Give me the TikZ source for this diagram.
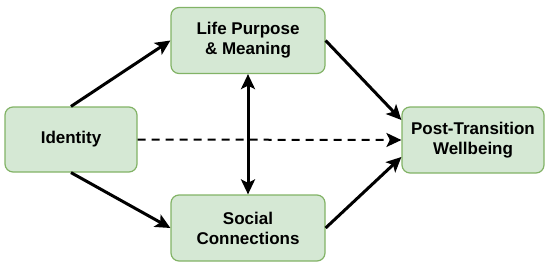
\documentclass[tikz,border=0pt]{standalone}
\usepackage{fontspec}
\setmainfont{Liberation Sans}
\usetikzlibrary{arrows.meta}
\definecolor{boxfill}{HTML}{D5E8D4}
\definecolor{boxdraw}{HTML}{82B366}
\tikzset{
  box/.style={draw=boxdraw, fill=boxfill, line width=1.2pt, rounded corners=8pt,
    align=center, font=\fontsize{17}{20}\selectfont\bfseries, inner sep=0pt},
  conn/.style={line width=3pt, -{Stealth[length=15pt,width=14pt,inset=3.5pt]}},
}
\begin{document}
\begin{tikzpicture}[x=1pt,y=-1pt]
\useasboundingbox (0,0) rectangle (550,268);
\node[box, minimum width=154pt, minimum height=66pt] (life) at (248,40.5) {Life Purpose\\\& Meaning};
\node[box, minimum width=132pt, minimum height=65pt] (id) at (71,139.5) {Identity};
\node[box, minimum width=154pt, minimum height=66pt] (soc) at (248,228) {Social\\Connections};
\node[box, minimum width=142pt, minimum height=66pt] (post) at (473,140) {Post-Transition\\Wellbeing};
\draw[conn] (id.north) -- (life.west);
\draw[conn] (id.south) -- (soc.west);
\draw[conn] (life.east) -- ([yshift=20pt]post.west);
\draw[conn] (soc.east) -- ([yshift=-17pt]post.west);
\draw[conn, line width=2pt, dash pattern=on 8pt off 6pt] (id.east) -- (post.west);
\draw[conn, {Stealth[length=15pt,width=14pt,inset=3.5pt]}-{Stealth[length=15pt,width=14pt,inset=3.5pt]}] (life.south) -- (soc.north);
\end{tikzpicture}
\end{document}
